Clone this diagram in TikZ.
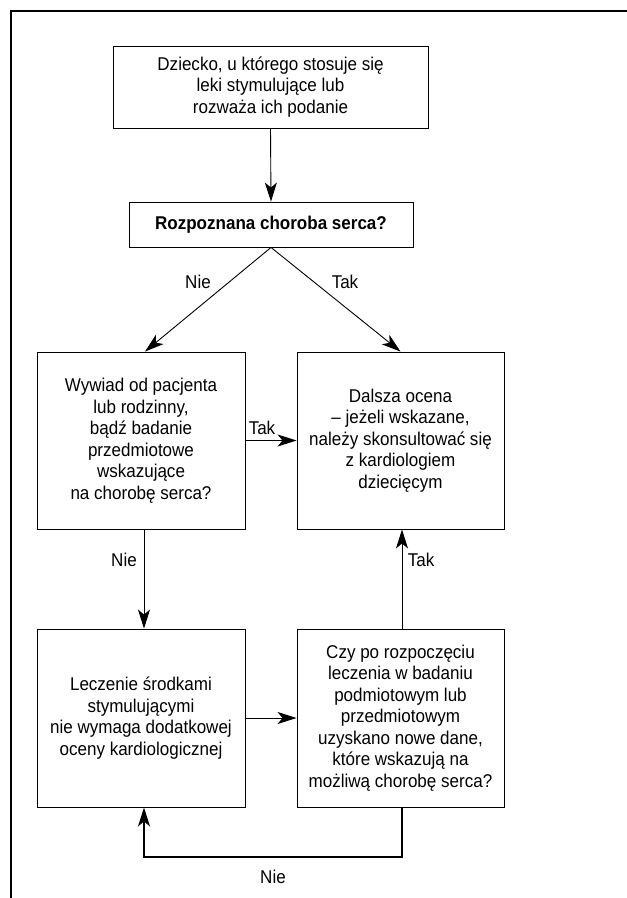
\documentclass[tikz,border=0pt]{standalone}
\usepackage{fontspec}
\setmainfont{Liberation Sans}[FakeStretch=0.92]
\usetikzlibrary{arrows.meta}
\begin{document}
\begin{tikzpicture}[x=1pt,y=-1pt,
  boxnode/.style={draw, line width=0.9pt, align=center, inner sep=0pt,
    font=\fontsize{18.5}{21.5}\selectfont},
  lbl/.style={font=\fontsize{18.5}{21.5}\selectfont, inner sep=0pt},
  arr/.style={line width=0.9pt, -{Stealth[length=19pt,width=12pt,inset=5pt]}},
  loopline/.style={line width=2pt, -{Stealth[length=19pt,width=12pt,inset=5pt]}}
]
\useasboundingbox (0,0) rectangle (627,898);
\fill[white] (0,0) rectangle (627,898);
\draw[line width=1.4pt] (11,898) -- (11,11) -- (627,11);

\node[boxnode, minimum width=315pt, minimum height=82pt] (top) at (270.5,87)
  {Dziecko, u którego stosuje się\\leki stymulujące lub\\rozważa ich podanie};
\node[boxnode, minimum width=284pt, minimum height=45pt] (q) at (271,224.5)
  {\textbf{Rozpoznana choroba serca?}};
\node[boxnode, minimum width=208pt, minimum height=177pt] (lm) at (141,440.5)
  {Wywiad od pacjenta\\lub rodzinny,\\bądź badanie\\przedmiotowe\\wskazujące\\na chorobę serca?};
\node[boxnode, minimum width=207pt, minimum height=177pt] (rm) at (400.5,440.5)
  {Dalsza ocena\\– jeżeli wskazane,\\należy skonsultować się\\z kardiologiem\\dziecięcym};
\node[boxnode, minimum width=208pt, minimum height=178pt] (lb) at (141,718)
  {Leczenie środkami\\stymulującymi\\nie wymaga dodatkowej\\oceny kardiologicznej};
\node[boxnode, minimum width=207pt, minimum height=178pt] (rb) at (400.5,718)
  {Czy po rozpoczęciu\\leczenia w badaniu\\podmiotowym lub\\przedmiotowym\\uzyskano nowe dane,\\które wskazują na\\możliwą chorobę serca?};

\draw[arr] (top.south) -- (q.north);
\draw[arr] (q.south) -- ([xshift=4pt]lm.north);
\draw[arr] (q.south) -- (rm.north);
\draw[arr] (lm.east) -- (rm.west);
\draw[arr] ([xshift=3pt]lm.south) -- ([xshift=3pt]lb.north);
\draw[arr] (lb.east) -- (rb.west);
\draw[arr] ([xshift=1.5pt]rb.north) -- ([xshift=1.5pt]rm.south);
\coordinate (lp) at ([xshift=1.5pt,yshift=-50pt]rb.south);
\draw[loopline] ([xshift=1.5pt]rb.south) -- (lp) -| ([xshift=3pt]lb.south);

\node[lbl] (l1) at (198,282) {Nie};
\node[lbl] (l2) at (345,282) {Tak};
\node[lbl] (l3) at (262,428) {Tak};
\node[lbl] (l4) at (124,560) {Nie};
\node[lbl] (l5) at (421,560) {Tak};
\node[lbl] (l6) at (273,877) {Nie};
\end{tikzpicture}
\end{document}
